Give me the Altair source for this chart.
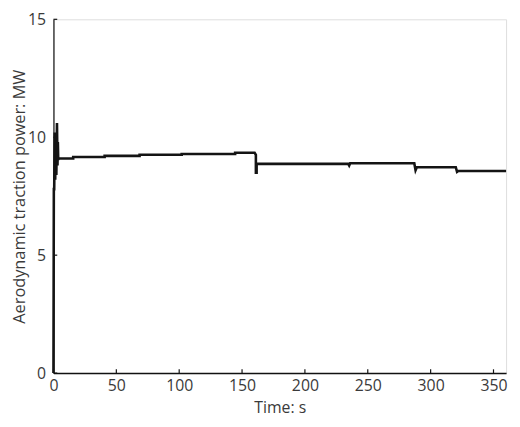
import altair as alt
import pandas as pd

# Time (s) and aerodynamic traction power (MW)
time_s = [0, 0.3, 0.6, 1.0, 1.4, 1.8, 2.3, 2.8, 3.2, 3.5, 3.8, 4.2,
          15.7, 15.7, 40.7, 40.7, 68.5, 68.5, 102, 102, 144.5, 144.5,
          160, 161, 161, 161.6, 161.6, 234.5, 235.2, 236, 287, 288, 289,
          320, 321, 322, 360]
power_mw = [0, 7.8, 7.8, 10.2, 8.2, 9.9, 8.4, 10.6, 8.8, 9.8, 9.05, 9.1,
            9.1, 9.16, 9.16, 9.21, 9.21, 9.26, 9.26, 9.29, 9.29, 9.34,
            9.34, 9.25, 8.5, 8.5, 8.87, 8.87, 8.8, 8.9, 8.9, 8.6, 8.73,
            8.73, 8.53, 8.57, 8.57]

x_ticks = [0, 50, 100, 150, 200, 250, 300, 350]
y_ticks = [0, 5, 10, 15]

df = pd.DataFrame({"t": time_s, "p": power_mw, "i": list(range(len(time_s)))})
dx = pd.DataFrame({"t": x_ticks})
dy = pd.DataFrame({"p": y_ticks})

FONT = "Open Sans"
TXT = "#3a3a3a"
TICK_Y = 0.16   # inward tick length in y units
TICK_X = 3.0    # inward tick length in x units

xscale = alt.Scale(domain=[0, 360], nice=False, zero=False)
yscale = alt.Scale(domain=[0, 15], nice=False)

xaxis = alt.Axis(values=x_ticks, title="Time: s", grid=False, ticks=False,
                 labelFont=FONT, labelFontSize=16, labelColor=TXT, labelPadding=5,
                 titleFont=FONT, titleFontSize=16, titleColor=TXT,
                 titleFontWeight="normal", titlePadding=6,
                 domainColor="#111111", domainWidth=1.5, labelFlush=False)
yaxis = alt.Axis(values=y_ticks, title="Aerodynamic traction power: MW",
                 grid=False, ticks=False,
                 labelFont=FONT, labelFontSize=16, labelColor=TXT, labelPadding=8,
                 titleFont=FONT, titleFontSize=16.5, titleColor=TXT,
                 titleFontWeight="normal", titlePadding=0,
                 domainColor="#111111", domainWidth=1.2, labelFlush=False)

line = alt.Chart(df).mark_line(color="#141414", strokeWidth=2.6).encode(
    x=alt.X("t:Q", scale=xscale, axis=xaxis),
    y=alt.Y("p:Q", scale=yscale, axis=yaxis),
    order=alt.Order("i:Q"),
)

xt = alt.Chart(dx).mark_rule(color="#111111", strokeWidth=1.2).encode(
    x=alt.X("t:Q", scale=xscale),
    y=alt.datum(0),
    y2=alt.datum(TICK_Y),
)
yt = alt.Chart(dy).mark_rule(color="#111111", strokeWidth=1.2).encode(
    y=alt.Y("p:Q", scale=yscale),
    x=alt.datum(0),
    x2=alt.datum(TICK_X),
)

chart = alt.layer(xt, yt, line).properties(
    width=458, height=358,
    padding={"left": 3, "top": 1, "right": 0, "bottom": 0},
).configure_view(stroke=None).configure(background="white")

chart.save("out.html", embed_options={"renderer": "svg", "actions": False})
